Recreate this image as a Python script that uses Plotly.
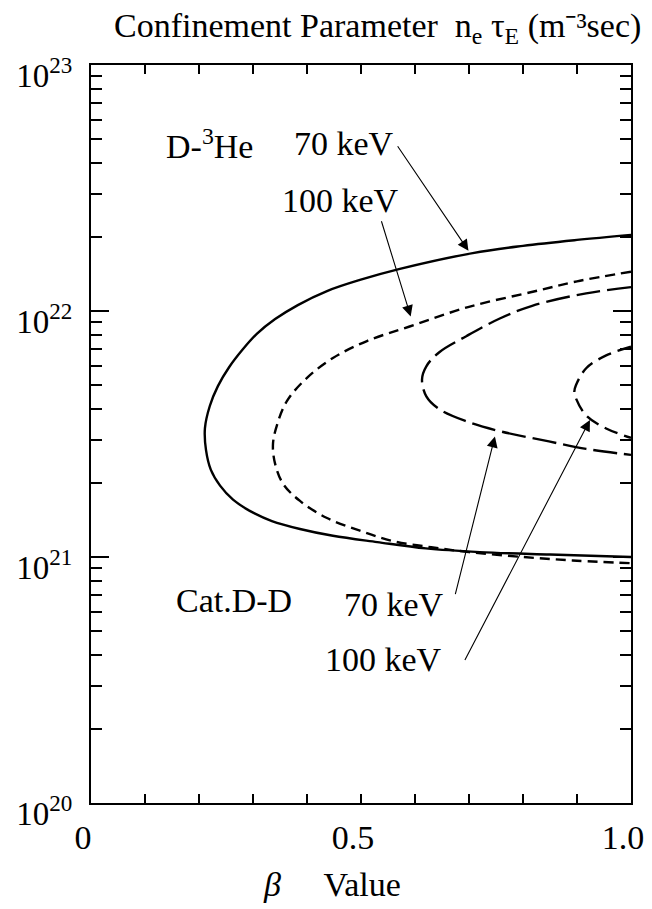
import plotly.graph_objects as go

# ---------------- data ----------------
# D-3He, 70 keV (solid)
beta_dhe70 = [1.0, 0.90, 0.80, 0.707, 0.572, 0.498, 0.437, 0.383, 0.341, 0.307, 0.280,
              0.256, 0.235, 0.220, 0.211, 0.213, 0.222, 0.239, 0.263, 0.294, 0.335, 0.387,
              0.448, 0.53, 0.62, 0.72, 0.85, 1.0]
ntau_dhe70 = [2.04e22, 1.945e22, 1.84e22, 1.72e22, 1.483e22, 1.337e22, 1.205e22, 1.057e22,
              9.27e21, 8.07e21, 6.94e21, 5.92e21, 4.95e21, 4.11e21, 3.34e21, 2.72e21,
              2.26e21, 1.95e21, 1.71e21, 1.54e21, 1.40e21, 1.30e21, 1.22e21, 1.15e21,
              1.084e21, 1.047e21, 1.023e21, 1.0e21]

# D-3He, 100 keV (short dashes)
beta_dhe100 = [1.0, 0.90, 0.82, 0.70, 0.59, 0.511, 0.448, 0.40, 0.363, 0.345, 0.337, 0.341,
               0.356, 0.387, 0.437, 0.498, 0.559, 0.63, 0.70, 0.80, 0.90, 1.0]
ntau_dhe100 = [1.445e22, 1.32e22, 1.20e22, 1.04e22, 8.65e21, 7.55e21, 6.44e21, 5.35e21,
               4.31e21, 3.47e21, 2.88e21, 2.39e21, 1.98e21, 1.69e21, 1.44e21, 1.28e21,
               1.16e21, 1.096e21, 1.047e21, 1.0e21, 9.66e20, 9.44e20]

# Cat. D-D, 70 keV (long dashes)
beta_dd70 = [1.0, 0.917, 0.817, 0.756, 0.695, 0.645, 0.621, 0.613, 0.621, 0.645, 0.695,
             0.756, 0.848, 0.917, 1.0]
ntau_dd70 = [1.25e22, 1.18e22, 1.05e22, 9.3e21, 7.9e21, 6.8e21, 5.96e21, 5.27e21, 4.5e21,
             3.99e21, 3.56e21, 3.25e21, 2.95e21, 2.75e21, 2.60e21]

# Cat. D-D, 100 keV (medium dashes)
beta_dd100 = [1.0, 0.954, 0.917, 0.898, 0.895, 0.898, 0.917, 0.954, 1.0]
ntau_dd100 = [7.16e21, 6.6e21, 5.85e21, 4.99e21, 4.70e21, 4.42e21, 3.76e21, 3.33e21, 3.05e21]

# tick labels
x_tickvals = [0, 0.5, 1.0]
x_ticktext = ["0", "0.5", "1.0"]
y_tickvals = [1e20, 1e21, 1e22, 1e23]
y_ticktext = ["10<sup>20</sup>", "10<sup>21</sup>", "10<sup>22</sup>", "10<sup>23</sup>"]

FONT = "Liberation Serif, Times New Roman, serif"

fig = go.Figure()

def add_curve(x, y, dash):
    fig.add_trace(go.Scatter(x=x, y=y, mode="lines",
                             line=dict(color="black", width=2.4, dash=dash, shape="spline",
                                       smoothing=1.0),
                             showlegend=False, hoverinfo="skip"))

add_curve(beta_dhe70, ntau_dhe70, "solid")
add_curve(beta_dhe100, ntau_dhe100, "10px,6px")
add_curve(beta_dd70, ntau_dd70, "24px,7px")
add_curve(beta_dd100, ntau_dd100, "14px,7px")

# text labels (x in beta, y in log10 units for the log axis)
labels = [
    ("D-<sup>3</sup>He", 0.22, 22.68),
    ("70 keV", 0.468, 22.68),
    ("100 keV", 0.462, 22.45),
    ("Cat.D-D", 0.264, 20.823),
    ("70 keV", 0.562, 20.808),
    ("100 keV", 0.541, 20.582),
]
for t, x, y in labels:
    fig.add_annotation(x=x, y=y, xref="x", yref="y", text=t, showarrow=False,
                       font=dict(family=FONT, size=34, color="black"),
                       xanchor="center", yanchor="middle")

# arrows: (tail beta, tail log10) -> (head beta, head log10)
arrows = [
    (0.566, 22.676, 0.699, 22.245),
    (0.537, 22.371, 0.592, 21.978),
    (0.674, 20.843, 0.748, 21.49),
    (0.691, 20.575, 0.924, 21.557),
]
for ax_, ay_, x, y in arrows:
    fig.add_annotation(x=x, y=y, ax=ax_, ay=ay_, xref="x", yref="y", axref="x", ayref="y",
                       text="", showarrow=True, arrowhead=2, arrowsize=2.0, arrowwidth=1.1,
                       arrowcolor="black")

# axis title (bottom) and y-axis label (top)
fig.add_annotation(x=0.446, y=-0.111, xref="paper", yref="paper",
                   text="<i>β</i>\u00a0\u00a0\u00a0\u00a0\u00a0Value", showarrow=False,
                   font=dict(family=FONT, size=34, color="black"),
                   xanchor="center", yanchor="middle")
fig.add_annotation(x=0.5306, y=1.05, xref="paper", yref="paper", borderpad=0,
                   text="Confinement Parameter \u00a0n<sub>e</sub> τ<sub>E</sub> (m\u207b\u00b3sec)",
                   showarrow=False, font=dict(family=FONT, size=34, color="black"),
                   xanchor="center", yanchor="middle")

fig.update_xaxes(range=[0, 1.0], tickvals=x_tickvals, ticktext=x_ticktext,
                 ticks="inside", ticklen=9, tickwidth=1.5, tickcolor="black",
                 showline=True, linewidth=2, linecolor="black", mirror="ticks",
                 showgrid=False, zeroline=False, automargin=False,
                 minor=dict(dtick=0.1, ticks="inside", ticklen=9, tickwidth=1.5,
                            tickcolor="black", showgrid=False),
                 tickfont=dict(family=FONT, size=34, color="black"),
                 ticklabelstandoff=3, ticklabelshift=-8)

y_minor = [float(m) * 10.0 ** e for e in (20, 21, 22) for m in range(2, 10)]
fig.update_yaxes(type="log", range=[20, 23], tickvals=y_tickvals, ticktext=y_ticktext,
                 ticks="inside", ticklen=18, tickwidth=1.5, tickcolor="black",
                 showline=True, linewidth=2, linecolor="black", mirror="ticks",
                 showgrid=False, zeroline=False, automargin=False,
                 minor=dict(tickvals=y_minor, ticks="inside", ticklen=11, tickwidth=1.5,
                            tickcolor="black", showgrid=False),
                 tickfont=dict(family=FONT, size=33, color="black"),
                 ticklabelstandoff=10, ticklabelshift=10)

# the page body adds an 8 px offset, so the figure is 8 px smaller than the window
fig.update_layout(width=644, height=901,
                  margin=dict(l=83, r=21, t=57, b=106, autoexpand=False),
                  paper_bgcolor="white", plot_bgcolor="white",
                  font=dict(family=FONT, color="black"))

fig.write_html("out.html")
